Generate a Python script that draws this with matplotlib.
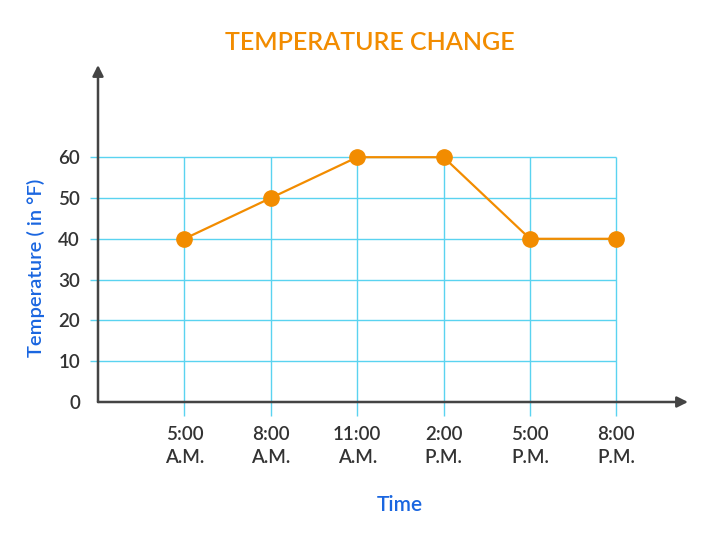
import matplotlib.pyplot as plt

plt.rcParams['font.family'] = ['Lato', 'DejaVu Sans']

# data
times = ['5:00\nA.M.', '8:00\nA.M.', '11:00\nA.M.', '2:00\nP.M.', '5:00\nP.M.', '8:00\nP.M.']
temps = [40, 50, 60, 60, 40, 40]
y_ticks = [0, 10, 20, 30, 40, 50, 60]

orange = '#f28c00'
cyan = '#5ad3f0'
blue = '#1a66e0'
axis_col = '#444444'

fig = plt.figure(figsize=(7.1, 5.38), dpi=100)
ax = fig.add_axes([98/710, 1-402/538, 590/710, 337/538])
xs = list(range(1, len(times) + 1))
ax.set_xlim(0, 590/86.4)
ax.set_ylim(0, 337/4.08)

# grid
ax.hlines(y_ticks[1:], -0.09, xs[-1], color=cyan, lw=1, clip_on=False, zorder=1)
ax.vlines(xs, -3.4, y_ticks[-1], color=cyan, lw=1, clip_on=False, zorder=1)

# series
ax.plot(xs, temps, color=orange, lw=1.6, marker='o', ms=11, zorder=3)

# axes with arrows
for s in ax.spines.values():
    s.set_visible(False)
ax.annotate('', xy=(1.0, 0), xytext=(0, 0), xycoords='axes fraction',
            arrowprops=dict(arrowstyle='-|>', color=axis_col, lw=1.8,
                            mutation_scale=16, shrinkA=0, shrinkB=0))
ax.annotate('', xy=(0, 1.0), xytext=(0, 0), xycoords='axes fraction',
            arrowprops=dict(arrowstyle='-|>', color=axis_col, lw=1.8,
                            mutation_scale=16, shrinkA=0, shrinkB=0))

ax.set_xticks(xs)
ax.set_xticklabels(times, fontsize=13.5, color='#333333', linespacing=1.45,
                   fontweight='semibold')
ax.set_yticks(y_ticks)
ax.set_yticklabels([str(v) for v in y_ticks], fontsize=13.5, color='#333333',
                   fontweight='semibold')
ax.tick_params(axis='both', length=0)
ax.tick_params(axis='x', pad=17)
ax.tick_params(axis='y', pad=13)

fig.text(370/710, 1-43/538, 'TEMPERATURE CHANGE', color=orange, fontsize=18,
         ha='center', va='center', fontweight='semibold')
fig.text(400/710, 1-505/538, 'Time', color=blue, fontsize=15,
         ha='center', va='center', fontweight='semibold')
fig.text(36/710, 1-268/538, 'Temperature ( in °F)', color=blue, fontsize=14.5,
         ha='center', va='center', rotation=90, fontweight='semibold')

fig.savefig('out.png', dpi=100)
